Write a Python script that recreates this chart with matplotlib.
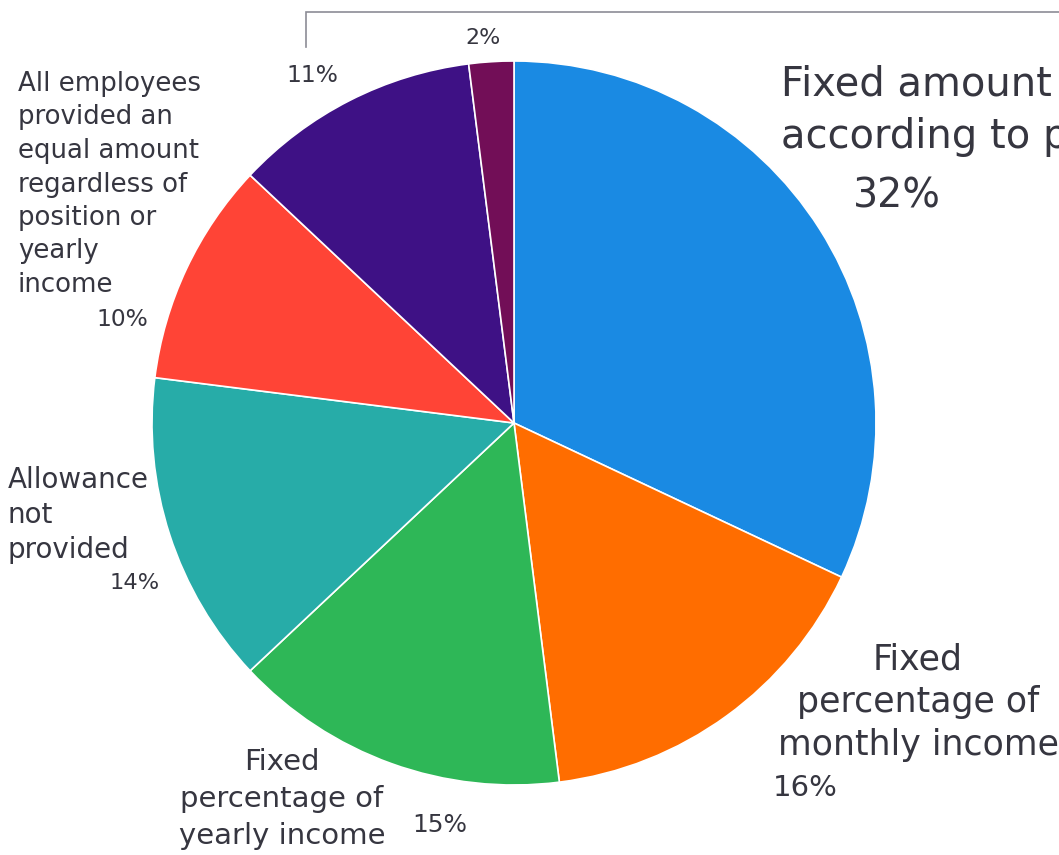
import matplotlib
matplotlib.use("Agg")
import matplotlib.pyplot as plt

# Company allowance policy breakdown
categories = [
    "Fixed amount according to position",
    "Fixed percentage of monthly income",
    "Fixed percentage of yearly income",
    "Allowance not provided",
    "All employees provided an equal amount regardless of position or yearly income",
    "Other",
    "Other (2)",
]
shares = [32, 16, 15, 14, 10, 11, 2]
colors = ["#1a8ae3", "#ff6d00", "#2eb757", "#27aca8", "#ff4436", "#3e1185", "#720e57"]

W, H = 1059, 855
TXT = "#363640"

fig = plt.figure(figsize=(W / 100, H / 100), dpi=100)
ax = fig.add_axes([0, 0, 1, 1])

ax.pie(shares, colors=colors, startangle=90, counterclock=False,
       center=(514, H - 423), radius=362,
       wedgeprops=dict(edgecolor="white", linewidth=1.2))
ax.set_xlim(0, W)
ax.set_ylim(0, H)
ax.set_aspect("equal")
ax.axis("off")


def block(x, y0, step, lines, size, ha="left"):
    for k, line in enumerate(lines):
        ax.text(x, H - (y0 + k * step), line, fontsize=size, color=TXT,
                ha=ha, va="center")


def pct(x, y, value, size, ha="center"):
    ax.text(x, H - y, f"{value}%", fontsize=size, color=TXT, ha=ha, va="center")


# labels, running clockwise from the top
block(781, 85, 52, ["Fixed amount", "according to position"], 28.8)
pct(897, 197, shares[0], 28.5)

block(918, 659, 43, ["Fixed", "percentage of", "monthly income"], 25, ha="center")
pct(773, 788, shares[1], 21, ha="left")

block(282, 762, 37, ["Fixed", "percentage of", "yearly income"], 21, ha="center")
pct(440, 825, shares[2], 17.8)

block(8, 480, 35, ["Allowance", "not", "provided"], 20)
pct(160, 583, shares[3], 16.2, ha="right")

block(18, 84, 33.5, ["All employees", "provided an", "equal amount",
                     "regardless of", "position or", "yearly", "income"], 18.7)
pct(148, 320, shares[4], 16.8, ha="right")

pct(312, 76, shares[5], 16.8)
pct(483, 38, shares[6], 15.9)

# leader line running off to the top right
ax.plot([306, 306, W], [H - 47, H - 12, H - 12], color="#8c8c96", lw=1.2,
        solid_joinstyle="miter", clip_on=False)

fig.savefig("out.png", dpi=100)
